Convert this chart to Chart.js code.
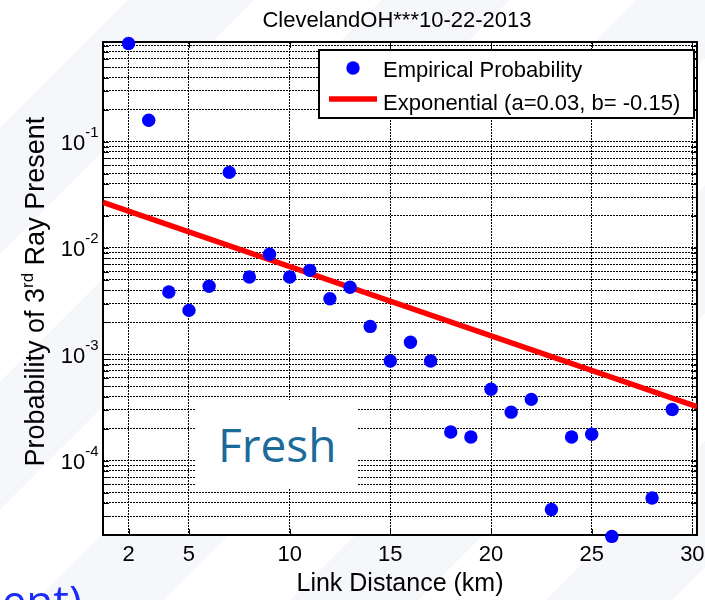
<!DOCTYPE html>
<html>
<head>
<meta charset="utf-8">
<title>ClevelandOH 10-22-2013</title>
<script src="https://cdn.jsdelivr.net/npm/chart.js@4.4.1/dist/chart.umd.min.js"></script>
<style>
  html, body { margin: 0; padding: 0; }
  body {
    width: 705px; height: 600px; overflow: hidden; position: relative;
    background: repeating-linear-gradient(135deg, #ffffff 0px, #ffffff 90px, #f6f7fb 90px, #f6f7fb 180px);
  }
  #wrap { position: absolute; left: 0; top: 0; width: 705px; height: 600px; }
  #fresh {
    position: absolute; left: 195px; top: 400px; width: 163px; height: 88px;
    background: #ffffff; color: #1b6a99;
    font-family: "Open Sans", sans-serif; font-size: 46px; line-height: 88px;
    text-indent: 23px; box-sizing: border-box;
  }
  #tail {
    position: absolute; left: -318px; top: 570px; width: 400px;
    color: #1a2cf5; font-family: "Open Sans", sans-serif; font-size: 44px;
    text-align: right; white-space: nowrap;
  }
</style>
</head>
<body>
<div id="wrap"><canvas id="probChart" width="705" height="600"></canvas></div>
<div id="fresh">Fresh</div>
<div id="tail">ent)</div>
<script>
// link distance (km) and empirical probability of a 3rd ray
const distances = [2, 3, 4, 5, 6, 7, 8, 9, 10, 11, 12, 13, 14, 15, 16, 17, 18, 19, 20, 21, 22, 23, 24, 25, 26, 28, 29];
const probabilities = [0.836, 0.159, 0.00385, 0.00259, 0.00436, 0.0514, 0.00533, 0.00873, 0.00533, 0.00616,
  0.00333, 0.00428, 0.00183, 0.000865, 0.0013, 0.000865, 0.000186, 0.000167, 0.000469, 0.000286,
  0.000377, 0.0000347, 0.000167, 0.000177, 0.0000194, 0.0000445, 0.000303];

// exponential fit  p = a * exp(b * d)
const fitA = 0.03;
const fitB = -0.15;

const xTicks = [2, 5, 10, 15, 20, 25, 30];
const yDecades = [-1, -2, -3, -4];
const xMin = 0.73, xMax = 30.23;
const yMin = 2e-5, yMax = 0.865;

const fitX = [xMin, xMax];
const fitLine = fitX.map(d => ({ x: d, y: fitA * Math.exp(fitB * d) }));

const FONT = '"Liberation Sans", Arial, sans-serif';

// 1..9 x 10^k grid for the log axis
const yGrid = [];
for (let k = -5; k <= 0; k++) {
  for (let m = 1; m <= 9; m++) {
    const v = m * Math.pow(10, k);
    if (v >= yMin * 0.999 && v <= yMax) yGrid.push(v);
  }
}

const matlabAxes = {
  id: "matlabAxes",
  beforeDraw(chart) {
    const { ctx, chartArea: a } = chart;
    ctx.save();
    ctx.fillStyle = "#ffffff";
    ctx.fillRect(a.left, a.top, a.right - a.left, a.bottom - a.top);
    ctx.restore();
  },
  beforeDatasetsDraw(chart) {
    const { ctx, chartArea: a, scales } = chart;
    ctx.save();
    ctx.strokeStyle = "#000";
    ctx.lineWidth = 1;
    ctx.beginPath();
    // inward ticks on all four sides
    yGrid.forEach(v => {
      const y = Math.round(scales.y.getPixelForValue(v)) + 0.5;
      ctx.moveTo(a.left, y); ctx.lineTo(a.left + 6, y);
      ctx.moveTo(a.right, y); ctx.lineTo(a.right - 6, y);
    });
    xTicks.forEach(v => {
      const x = Math.round(scales.x.getPixelForValue(v)) + 0.5;
      ctx.moveTo(x, a.bottom); ctx.lineTo(x, a.bottom - 6);
      ctx.moveTo(x, a.top); ctx.lineTo(x, a.top + 6);
    });
    ctx.stroke();
    ctx.lineWidth = 2;
    ctx.strokeRect(a.left, a.top, a.right - a.left, a.bottom - a.top);
    ctx.restore();
  },
  afterDraw(chart) {
    const { ctx, chartArea: a, scales } = chart;
    ctx.save();
    ctx.fillStyle = "#000";

    // title
    ctx.font = "22px " + FONT;
    ctx.textAlign = "center";
    ctx.textBaseline = "alphabetic";
    ctx.fillText("ClevelandOH***10-22-2013", 397, 26.5);

    // x tick labels
    ctx.font = "22px " + FONT;
    xTicks.forEach(v => ctx.fillText(String(v), scales.x.getPixelForValue(v), 561));

    // x axis title
    ctx.font = "25px " + FONT;
    ctx.fillText("Link Distance (km)", (a.left + a.right) / 2, 591);

    // y tick labels as 10^k
    ctx.textAlign = "left";
    yDecades.forEach(k => {
      const y = scales.y.getPixelForValue(Math.pow(10, k));
      const exp = String(k);
      ctx.font = "15px " + FONT;
      const we = ctx.measureText(exp).width;
      ctx.font = "22px " + FONT;
      const wb = ctx.measureText("10").width;
      const x0 = 98.5 - we - wb;
      ctx.fillText("10", x0, y + 8.5);
      ctx.font = "15px " + FONT;
      ctx.fillText(exp, x0 + wb, y - 4.5);
    });

    // y axis title with superscript
    ctx.translate(44, 291.7);
    ctx.rotate(-Math.PI / 2);
    const parts = [["Probability of 3", 27, 0], ["rd", 17, -11], [" Ray Present", 27, 0]];
    let total = 0;
    parts.forEach(p => { ctx.font = p[1] + "px " + FONT; total += ctx.measureText(p[0]).width; });
    let cx = -total / 2;
    parts.forEach(p => {
      ctx.font = p[1] + "px " + FONT;
      ctx.fillText(p[0], cx, p[2]);
      cx += ctx.measureText(p[0]).width;
    });
    ctx.restore();

    // legend box
    ctx.save();
    ctx.fillStyle = "#ffffff";
    ctx.fillRect(319, 50, 375, 68);
    ctx.strokeStyle = "#000";
    ctx.lineWidth = 2;
    ctx.strokeRect(319, 50, 375, 68);
    ctx.fillStyle = "#0000ff";
    ctx.beginPath();
    ctx.arc(353, 68, 6.7, 0, Math.PI * 2);
    ctx.fill();
    ctx.strokeStyle = "#ff0000";
    ctx.lineWidth = 5.5;
    ctx.beginPath();
    ctx.moveTo(329, 99); ctx.lineTo(377, 99);
    ctx.stroke();
    ctx.fillStyle = "#000";
    ctx.font = "22px " + FONT;
    ctx.textAlign = "left";
    ctx.fillText(chart.data.datasets[0].label, 383, 77);
    ctx.fillText(chart.data.datasets[1].label, 383, 110);
    ctx.restore();
  }
};

const ctx = document.getElementById("probChart").getContext("2d");
new Chart(ctx, {
  type: "scatter",
  data: {
    datasets: [
      {
        label: "Empirical Probability",
        data: distances.map((d, i) => ({ x: d, y: probabilities[i] })),
        backgroundColor: "#0000ff",
        borderWidth: 0,
        pointRadius: 6.7,
        clip: false
      },
      {
        label: "Exponential (a=" + fitA + ", b= " + fitB + ")",
        data: fitLine,
        showLine: true,
        borderColor: "#ff0000",
        borderWidth: 5.5,
        pointRadius: 0
      }
    ]
  },
  options: {
    responsive: false,
    animation: false,
    layout: { padding: { left: 103, top: 42, right: 8, bottom: 65 } },
    plugins: { legend: { display: false }, tooltip: { enabled: false } },
    scales: {
      x: {
        type: "linear", min: xMin, max: xMax,
        afterBuildTicks: s => { s.ticks = xTicks.map(v => ({ value: v })); },
        ticks: { display: false },
        grid: { color: "#000", lineWidth: 1, drawTicks: false },
        border: { display: false, dash: [2, 1] }
      },
      y: {
        type: "logarithmic", min: yMin, max: yMax,
        afterBuildTicks: s => { s.ticks = yGrid.map(v => ({ value: v })); },
        ticks: { display: false },
        grid: { color: "#000", lineWidth: 1, drawTicks: false },
        border: { display: false, dash: [2, 1] }
      }
    }
  },
  plugins: [matlabAxes]
});
</script>
</body>
</html>
